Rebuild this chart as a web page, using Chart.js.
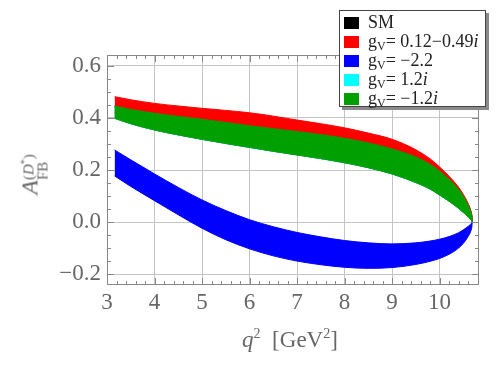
<!DOCTYPE html>
<html>
<head>
<meta charset="utf-8">
<script src="https://cdn.jsdelivr.net/npm/chart.js@4.4.1/dist/chart.umd.min.js"></script>
<style>
  html, body { margin: 0; padding: 0; background: #fff; }
  #wrap { position: relative; width: 500px; height: 367px; }
  #chart { position: absolute; left: 0; top: 0; }
  .serif { font-family: "Liberation Serif", "DejaVu Serif", serif; color: #666; }
  #legend {
    position: absolute; left: 339px; top: 10px; width: 145px; height: 95px;
    background: #fff; border: 1px solid #444; box-shadow: 3px 3px 0 #8a8a8a;
    color: #222; font-size: 18px;
  }
  #legend .row { position: absolute; left: 4px; height: 19px; line-height: 19px; white-space: nowrap; }
  #legend .sw { display: inline-block; width: 15px; height: 12px; vertical-align: -1px; margin-right: 9px; }
  #legend sub { font-size: 12px; vertical-align: -3px; }
  #ytitle {
    position: absolute; left: -12px; top: 158px; width: 90px; text-align: center;
    transform: rotate(-90deg); font-size: 24px; white-space: nowrap;
  }
  #ytitle .ss { display: inline-block; vertical-align: -10px; line-height: 14px; font-size: 15px; text-align: left; }
  #ytitle .ss span { display: block; }
  #xtitle { position: absolute; left: 200px; width: 180px; top: 326px; text-align: center; font-size: 23px; white-space: nowrap; }
  #xtitle sup { font-size: 14px; vertical-align: 9px; }
</style>
</head>
<body>
<div id="wrap">
  <canvas id="chart" width="500" height="367"></canvas>
  <div id="ytitle" class="serif"><i>A</i><span class="ss"><span>(<i>D</i><sup style="font-size:10px">*</sup>)</span><span>FB</span></span></div>
  <div id="xtitle" class="serif"><i>q</i><sup>2</sup>&nbsp; [GeV<sup>2</sup>]</div>
  <div id="legend" class="serif"></div>
</div>
<script>
// A_FB(D*) bands vs q^2 for several g_V couplings

// ── Data ──────────────────────────────────────────────────────────────────────
const q2 = [3.16, 3.5, 4, 4.5, 5, 5.5, 6, 6.5, 7, 7.5, 8, 8.5, 9, 9.5, 9.8, 10, 10.2, 10.4, 10.5, 10.6, 10.65, 10.68, 10.69];

const redTop   = [0.482, 0.470, 0.456, 0.446, 0.437, 0.429, 0.420, 0.407, 0.392, 0.378, 0.362, 0.342, 0.318, 0.278, 0.243, 0.212, 0.176, 0.134, 0.106, 0.072, 0.049, 0.025, 0.0];
const redBot   = [0.420, 0.408, 0.393, 0.381, 0.370, 0.358, 0.345, 0.333, 0.322, 0.310, 0.296, 0.279, 0.256, 0.225, 0.198, 0.175, 0.149, 0.115, 0.092, 0.062, 0.042, 0.020, 0.0];
const greenTop = [0.446, 0.433, 0.418, 0.406, 0.395, 0.383, 0.370, 0.359, 0.348, 0.336, 0.322, 0.304, 0.281, 0.250, 0.222, 0.196, 0.164, 0.125, 0.099, 0.065, 0.044, 0.021, 0.0];
const greenBot = [0.399, 0.378, 0.354, 0.335, 0.318, 0.302, 0.287, 0.272, 0.258, 0.244, 0.228, 0.209, 0.185, 0.152, 0.127, 0.104, 0.080, 0.053, 0.037, 0.020, 0.011, 0.004, 0.0];
const blueTop  = [0.277, 0.239, 0.185, 0.133, 0.085, 0.044, 0.009, -0.018, -0.040, -0.057, -0.071, -0.080, -0.084, -0.080, -0.073, -0.066, -0.056, -0.041, -0.030, -0.017, -0.009, -0.003, 0.0];
const blueBot  = [0.177, 0.137, 0.082, 0.028, -0.024, -0.068, -0.103, -0.130, -0.150, -0.164, -0.174, -0.178, -0.175, -0.163, -0.151, -0.140, -0.124, -0.100, -0.082, -0.056, -0.038, -0.018, 0.0];
// SM and g_V = 1.2i coincide with the g_V = -1.2i band, so they are hidden under it
const smTop = greenTop, smBot = greenBot;
const cyanTop = greenTop, cyanBot = greenBot;

const legendLabels = ['SM', 'g<sub>V</sub>= 0.12\u22120.49<i>i</i>', 'g<sub>V</sub>= \u22122.2', 'g<sub>V</sub>= 1.2<i>i</i>', 'g<sub>V</sub>= \u22121.2<i>i</i>'];
const legendColors = ['#000000', '#ff0000', '#0000ff', '#00ffff', '#00a000'];

const xTicks = [3, 4, 5, 6, 7, 8, 9, 10];
const yTicks = [-0.2, 0.0, 0.2, 0.4, 0.6];

// ── Legend (HTML, Mathematica-style box) ──────────────────────────────────────
const legendEl = document.getElementById('legend');
legendLabels.forEach((lab, i) => {
  const row = document.createElement('div');
  row.className = 'row';
  row.style.top = (2 + i * 19) + 'px';
  row.innerHTML = `<span class="sw" style="background:${legendColors[i]}"></span>${lab}`;
  legendEl.appendChild(row);
});

// ── Bands: top line fills down to the next dataset (its bottom line) ─────────
function band(top, bot, color) {
  const pts = arr => q2.map((x, i) => ({ x, y: arr[i] }));
  const common = {
    borderColor: color, backgroundColor: color, borderWidth: 1,
    pointRadius: 0, cubicInterpolationMode: 'monotone'
  };
  return [
    { ...common, data: pts(top), fill: '+1' },
    { ...common, data: pts(bot), fill: false }
  ];
}

// lower index is drawn on top, so green goes first
const datasets = [
  ...band(greenTop, greenBot, legendColors[4]),
  ...band(blueTop,  blueBot,  legendColors[2]),
  ...band(redTop,   redBot,   legendColors[1]),
  ...band(cyanTop,  cyanBot,  legendColors[3]),
  ...band(smTop,    smBot,    legendColors[0])
];

// ── Frame with inward ticks on all four sides ────────────────────────────────
const frameTicks = {
  id: 'frameTicks',
  afterDatasetsDraw(chart) {
    const { ctx, chartArea: a, scales: { x, y } } = chart;
    ctx.save();
    ctx.strokeStyle = '#888';
    ctx.lineWidth = 1;
    ctx.strokeRect(Math.round(a.left) + 0.5, Math.round(a.top) + 0.5,
                   Math.round(a.right - a.left) - 1, Math.round(a.bottom - a.top) - 1);
    ctx.beginPath();
    for (let k = 0; k <= 39; k++) {
      const v = 3 + k * 0.2;
      if (v > x.max) break;
      const px = Math.round(x.getPixelForValue(v)) + 0.5;
      const len = k % 5 === 0 ? 7 : 4;
      ctx.moveTo(px, a.bottom); ctx.lineTo(px, a.bottom - len);
      ctx.moveTo(px, a.top);    ctx.lineTo(px, a.top + len);
    }
    for (let k = 0; k <= 16; k++) {
      const v = -0.2 + k * 0.05;
      const py = Math.round(y.getPixelForValue(v)) + 0.5;
      const len = k % 4 === 0 ? 7 : 4;
      ctx.moveTo(a.left, py);  ctx.lineTo(a.left + len, py);
      ctx.moveTo(a.right, py); ctx.lineTo(a.right - len, py);
    }
    ctx.stroke();
    ctx.restore();
  }
};

const tickFont = { family: 'Liberation Serif', size: 23 };

new Chart(document.getElementById('chart'), {
  type: 'line',
  data: { datasets },
  plugins: [frameTicks],
  options: {
    responsive: false,
    animation: false,
    parsing: false,
    layout: { padding: { top: 55, right: 21, left: 0, bottom: 0 } },
    plugins: { legend: { display: false }, tooltip: { enabled: false } },
    scales: {
      x: {
        type: 'linear', min: 3, max: 10.83,
        afterBuildTicks: s => { s.ticks = xTicks.map(v => ({ value: v })); },
        afterFit: s => { s.height = 82; },
        ticks: { color: '#666', font: tickFont, padding: 4, maxRotation: 0, autoSkip: false,
                 callback: v => String(v) },
        grid: { color: '#c4c4c4', drawTicks: false },
        border: { display: false }
      },
      y: {
        type: 'linear', min: -0.242, max: 0.642,
        afterBuildTicks: s => { s.ticks = yTicks.map(v => ({ value: v })); },
        afterFit: s => { s.width = 107; },
        ticks: { color: '#666', font: tickFont, padding: 6,
                 callback: v => (v < 0 ? '\u2212' : '') + Math.abs(v).toFixed(1) },
        grid: { color: '#c4c4c4', drawTicks: false },
        border: { display: false }
      }
    }
  }
});
</script>
</body>
</html>
